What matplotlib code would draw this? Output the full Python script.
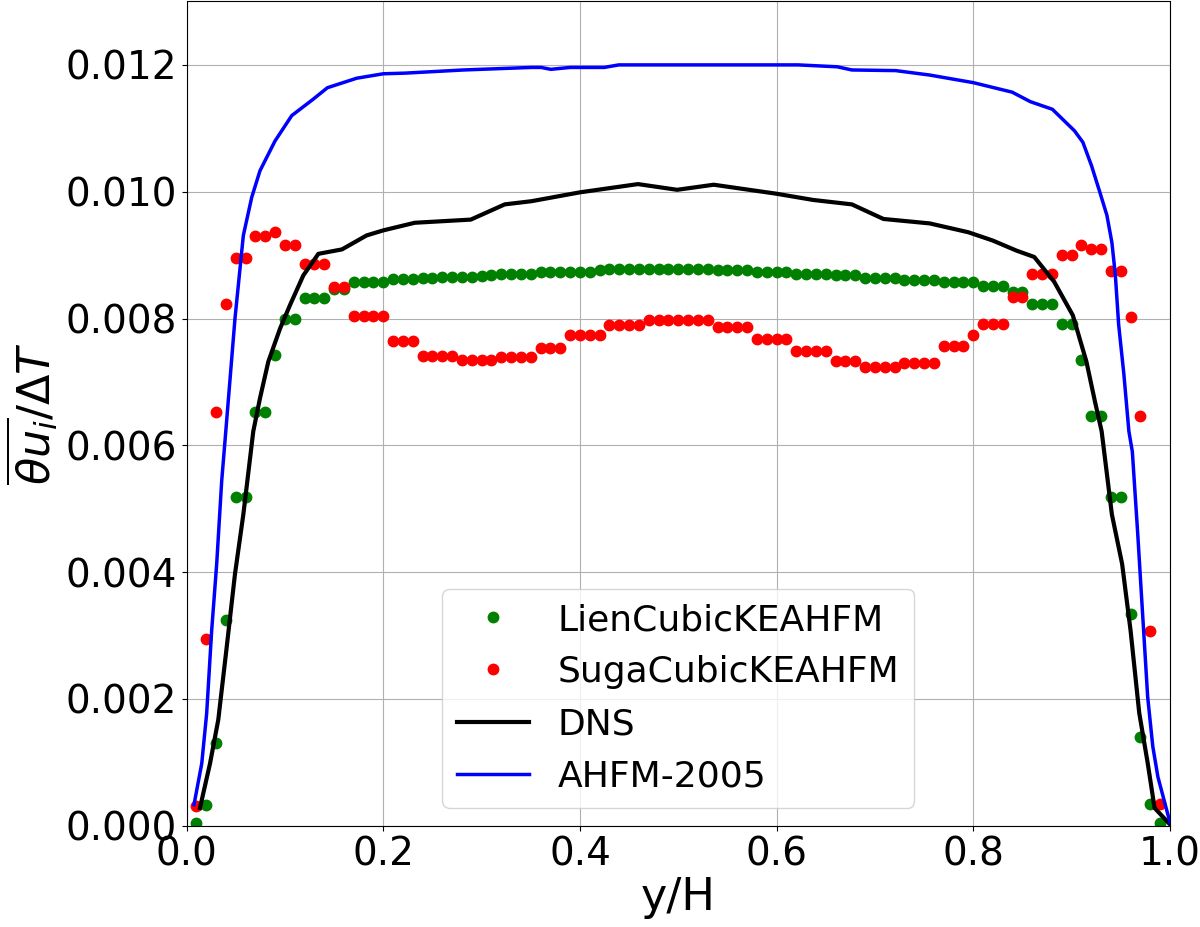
import numpy as np
import matplotlib
matplotlib.use("Agg")
import matplotlib.pyplot as plt

# ---------------- data ----------------
x_pts = [round(0.01 * k, 2) for k in range(1, 100)]

lien = [0.00004, 0.00032, 0.00131, 0.00325, 0.00519, 0.00519, 0.00653, 0.00653, 0.00743, 0.00800,
        0.00800, 0.00832, 0.00832, 0.00832, 0.00847, 0.00847, 0.00858, 0.00858, 0.00858, 0.00858,
        0.00863, 0.00863, 0.00863, 0.00864, 0.00864, 0.00865, 0.00865, 0.00866, 0.00866, 0.00867,
        0.00868, 0.00870, 0.00870, 0.00870, 0.00870, 0.00873, 0.00873, 0.00873, 0.00874, 0.00874,
        0.00874, 0.00876, 0.00878, 0.00878, 0.00878, 0.00878, 0.00878, 0.00878, 0.00878, 0.00878,
        0.00878, 0.00878, 0.00878, 0.00877, 0.00877, 0.00877, 0.00877, 0.00873, 0.00873, 0.00873,
        0.00873, 0.00870, 0.00870, 0.00870, 0.00870, 0.00868, 0.00868, 0.00868, 0.00864, 0.00864,
        0.00864, 0.00864, 0.00861, 0.00861, 0.00861, 0.00861, 0.00858, 0.00858, 0.00858, 0.00858,
        0.00852, 0.00852, 0.00852, 0.00842, 0.00842, 0.00823, 0.00823, 0.00823, 0.00791, 0.00791,
        0.00734, 0.00646, 0.00646, 0.00519, 0.00519, 0.00334, 0.00140, 0.00034, 0.00005]

suga = [0.00031, 0.00295, 0.00653, 0.00823, 0.00895, 0.00895, 0.00930, 0.00930, 0.00936, 0.00916,
        0.00916, 0.00886, 0.00886, 0.00886, 0.00849, 0.00849, 0.00804, 0.00804, 0.00804, 0.00804,
        0.00765, 0.00765, 0.00765, 0.00741, 0.00741, 0.00741, 0.00741, 0.00734, 0.00734, 0.00734,
        0.00734, 0.00740, 0.00740, 0.00740, 0.00740, 0.00754, 0.00754, 0.00754, 0.00774, 0.00774,
        0.00774, 0.00774, 0.00789, 0.00789, 0.00789, 0.00789, 0.00797, 0.00797, 0.00797, 0.00797,
        0.00797, 0.00797, 0.00797, 0.00786, 0.00786, 0.00786, 0.00786, 0.00768, 0.00768, 0.00768,
        0.00768, 0.00749, 0.00749, 0.00749, 0.00749, 0.00733, 0.00733, 0.00733, 0.00724, 0.00724,
        0.00724, 0.00724, 0.00730, 0.00730, 0.00730, 0.00730, 0.00756, 0.00756, 0.00756, 0.00774,
        0.00792, 0.00792, 0.00792, 0.00834, 0.00834, 0.00870, 0.00870, 0.00870, 0.00900, 0.00900,
        0.00916, 0.00909, 0.00909, 0.00875, 0.00875, 0.00803, 0.00646, 0.00307, 0.00035]

dns_x = [0.0136, 0.0238, 0.0322, 0.0408, 0.0492, 0.0577, 0.0678, 0.0746, 0.0831, 0.0950,
         0.1051, 0.1187, 0.1340, 0.158, 0.183, 0.200, 0.232, 0.289, 0.3235, 0.3506,
         0.400, 0.459, 0.4988, 0.536, 0.599, 0.637, 0.6765, 0.7086, 0.7556, 0.795,
         0.8197, 0.844, 0.862, 0.8822, 0.9012, 0.9150, 0.9237, 0.9305, 0.9409, 0.9513,
         0.9599, 0.9687, 0.9773, 0.9843, 1.0]
dns_y = [0.00028, 0.00098, 0.00167, 0.00282, 0.00397, 0.00491, 0.00622, 0.00674, 0.00732, 0.00784,
         0.00821, 0.00868, 0.00902, 0.00909, 0.00931, 0.00939, 0.00951, 0.00956, 0.00980, 0.00985,
         0.00999, 0.01012, 0.01003, 0.01011, 0.00997, 0.00987, 0.00980, 0.00957, 0.00950, 0.00936,
         0.00923, 0.00907, 0.00897, 0.00858, 0.00805, 0.00732, 0.00669, 0.00622, 0.00491, 0.00413,
         0.00308, 0.00178, 0.00099, 0.00028, 0.00002]

ahfm_x = [0.0075, 0.0154, 0.0204, 0.0255, 0.0306, 0.0357, 0.0390, 0.0492, 0.0577, 0.0662,
          0.0746, 0.0899, 0.1069, 0.1288, 0.1432, 0.173, 0.200, 0.222, 0.2815, 0.3506, 0.3605,
          0.3704, 0.390, 0.4247, 0.4395, 0.622, 0.6617, 0.6765, 0.721, 0.7556, 0.800,
          0.8395, 0.858, 0.8804, 0.9029, 0.9114, 0.9202, 0.9287, 0.9358, 0.9409, 0.9444,
          0.9478, 0.9531, 0.9582, 0.9617, 0.9670, 0.9721, 0.9773, 0.9825, 0.9877, 1.0]
ahfm_y = [0.00033, 0.00098, 0.00177, 0.00308, 0.00413, 0.00544, 0.00606, 0.00800, 0.00931, 0.00991,
          0.01033, 0.01080, 0.01120, 0.01146, 0.01164, 0.01179, 0.01186, 0.01187, 0.01192, 0.01196, 0.01196,
          0.01193, 0.01196, 0.01196, 0.01200, 0.01200, 0.01197, 0.01192, 0.01191, 0.01184, 0.01172,
          0.01157, 0.01142, 0.01130, 0.01096, 0.01078, 0.01041, 0.00999, 0.00963, 0.00920, 0.00869,
          0.00790, 0.00712, 0.00622, 0.00590, 0.00465, 0.00335, 0.00203, 0.00125, 0.00077, 0.00005]

x_ticks = [0.0, 0.2, 0.4, 0.6, 0.8, 1.0]
x_ticklabels = ["0.0", "0.2", "0.4", "0.6", "0.8", "1.0"]
y_ticks = [0.000, 0.002, 0.004, 0.006, 0.008, 0.010, 0.012]
y_ticklabels = ["0.000", "0.002", "0.004", "0.006", "0.008", "0.010", "0.012"]

labels = ["LienCubicKEAHFM", "SugaCubicKEAHFM", "DNS", "AHFM-2005"]

# ---------------- plot ----------------
fig = plt.figure(figsize=(12, 9.27), dpi=100)
ax = fig.add_axes([186.6 / 1200, 101.3 / 927, (1170 - 186.6) / 1200, (825.7 - 1.5) / 927])

ax.plot(x_pts, lien, 'o', color='green', markersize=7.5, label=labels[0])
ax.plot(x_pts, suga, 'o', color='red', markersize=7.5, label=labels[1])
ax.plot(dns_x, dns_y, '-', color='black', linewidth=3, label=labels[2])
ax.plot(ahfm_x, ahfm_y, '-', color='blue', linewidth=2.5, label=labels[3])

ax.set_xlim(0, 1.0)
ax.set_ylim(0, 0.013)
ax.set_xticks(x_ticks)
ax.set_xticklabels(x_ticklabels)
ax.set_yticks(y_ticks)
ax.set_yticklabels(y_ticklabels)
ax.tick_params(labelsize=28)
ax.grid(True, color='#b0b0b0', linewidth=0.8)
ax.set_axisbelow(True)

ax.set_xlabel("y/H", fontsize=32, labelpad=2)
ax.set_ylabel(r"$\overline{\theta u_i}/\Delta T$", fontsize=32, labelpad=4)

ax.legend(loc='lower center', fontsize=26, numpoints=1)

fig.savefig("out.png", dpi=100)
